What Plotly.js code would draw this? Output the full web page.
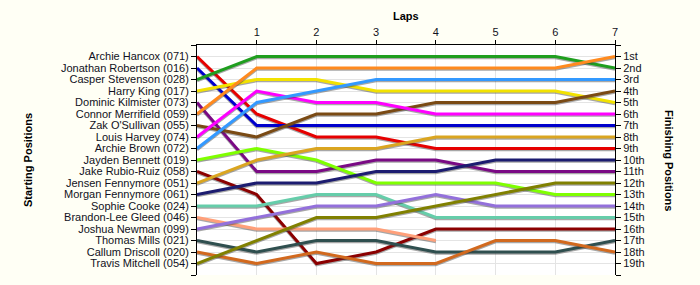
<!DOCTYPE html>
<html>
<head>
<meta charset="utf-8">
<script src="https://cdn.plot.ly/plotly-3.0.1.min.js"></script>
<style>
  html, body { margin: 0; padding: 0; background: #FFFFF5; }
  #chart { width: 700px; height: 285px; }
</style>
</head>
<body>
<div id="chart"></div>
<script>
// Laps
const laps = [0, 1, 2, 3, 4, 5, 6, 7];

// Drivers in starting order
const drivers = [
  "Archie Hancox (071)", "Jonathan Robertson (016)", "Casper Stevenson (028)",
  "Harry King (017)", "Dominic Kilmister (073)", "Connor Merrifield (059)",
  "Zak O'Sullivan (055)", "Louis Harvey (074)", "Archie Brown (072)",
  "Jayden Bennett (019)", "Jake Rubio-Ruiz (058)", "Jensen Fennymore (051)",
  "Morgan Fennymore (061)", "Sophie Cooke (024)", "Brandon-Lee Gleed (046)",
  "Joshua Newman (099)", "Thomas Mills (021)", "Callum Driscoll (020)",
  "Travis Mitchell (054)"
];

const colors = [
  "#E60000", "#0000CC", "#1F9E1F", "#F2E200", "#7A0A84", "#FF8A1F",
  "#7A4A14", "#FF00FF", "#3399FF", "#7FFF00", "#8B0000", "#DAA520",
  "#1C1C70", "#66CDAA", "#FFA07A", "#9370DB", "#2F4F4F", "#D2691E",
  "#808000"
];

// Position of each driver at the end of each lap (lap 0 = start)
const posHancox     = [1, 6, 8, 8, 9, 9, 9, 9];
const posRobertson  = [2, 7, 7, 7, 7, 7, 7, 7];
const posStevenson  = [3, 1, 1, 1, 1, 1, 1, 2];
const posKing       = [4, 3, 3, 4, 4, 4, 4, 5];
const posKilmister  = [5, 11, 11, 10, 10, 11, 11, 11];
const posMerrifield = [6, 2, 2, 2, 2, 2, 2, 1];
const posOSullivan  = [7, 8, 6, 6, 5, 5, 5, 4];
const posHarvey     = [8, 4, 5, 5, 6, 6, 6, 6];
const posBrown      = [9, 5, 4, 3, 3, 3, 3, 3];
const posBennett    = [10, 9, 10, 12, 12, 12, 13, 13];
const posRubioRuiz  = [11, 13, 19, 18, 16, 16, 16, 16];
const posJensenF    = [12, 10, 9, 9, 8, 8, 8, 8];
const posMorganF    = [13, 12, 12, 11, 11, 10, 10, 10];
const posCooke      = [14, 14, 13, 13, 15, 15, 15, 15];
const posGleed      = [15, 16, 16, 16, 17];
const posNewman     = [16, 15, 14, 14, 13, 14, 14, 14];
const posMills      = [17, 18, 17, 17, 18, 18, 18, 17];
const posDriscoll   = [18, 19, 18, 19, 19, 17, 17, 18];
const posMitchell   = [19, 17, 15, 15, 14, 13, 12, 12];

const positions = [
  posHancox, posRobertson, posStevenson, posKing, posKilmister, posMerrifield,
  posOSullivan, posHarvey, posBrown, posBennett, posRubioRuiz, posJensenF,
  posMorganF, posCooke, posGleed, posNewman, posMills, posDriscoll, posMitchell
];

const finishLabels = ["1st","2nd","3rd","4th","5th","6th","7th","8th","9th","10th",
  "11th","12th","13th","14th","15th","16th","17th","18th","19th"];

const tickVals = [];
for (let i = 0; i <= 20; i++) tickVals.push(i);
const leftText = [""].concat(drivers).concat([""]);
const rightText = [""].concat(finishLabels).concat([""]);

const traces = [];
positions.forEach((p, i) => {
  const x = laps.slice(0, p.length);
  traces.push({
    x: x, y: p.map(v => v + 0.11), type: "scatter", mode: "lines",
    line: { color: "rgba(60,60,60,0.45)", width: 3 },
    hoverinfo: "skip", showlegend: false
  });
  traces.push({
    x: x, y: p, type: "scatter", mode: "lines", name: drivers[i],
    line: { color: colors[i], width: 3 },
    showlegend: false
  });
});
// dummy trace to activate right axis
traces.push({ x: [0], y: [1], yaxis: "y2", mode: "markers",
  marker: { opacity: 0 }, showlegend: false, hoverinfo: "skip" });

const tickFont = { family: "Liberation Sans, Arial, sans-serif", size: 11, color: "#111122" };
const titleFont = { family: "Liberation Sans, Arial, sans-serif", size: 11, color: "#000000", weight: "bold" };

const layout = {
  width: 700, height: 285,
  paper_bgcolor: "#FFFFF5",
  plot_bgcolor: "#FFFFFF",
  margin: { l: 197, r: 85, t: 45, b: 10, pad: 0 },
  showlegend: false,
  xaxis: {
    side: "top", range: [0, 7], tickvals: [1, 2, 3, 4, 5, 6, 7],
    ticks: "outside", ticklen: 4, tickcolor: "#000", tickwidth: 1,
    showline: true, linecolor: "#000", linewidth: 1,
    showgrid: true, gridcolor: "#E4E4E4", zeroline: false,
    tickfont: tickFont, fixedrange: true
  },
  yaxis: {
    range: [20, 0], tickvals: tickVals, ticktext: leftText,
    ticks: "outside", ticklen: 5, tickcolor: "#000",
    showline: true, linecolor: "#000", linewidth: 1,
    showgrid: true, gridcolor: "#E4E4E4", zeroline: false,
    tickfont: tickFont
  },
  yaxis2: {
    overlaying: "y", side: "right",
    range: [20, 0], tickvals: tickVals, ticktext: rightText,
    ticks: "outside", ticklen: 5, tickcolor: "#000",
    showline: true, linecolor: "#000", linewidth: 1,
    showgrid: false, zeroline: false,
    tickfont: tickFont
  },
  annotations: [
    { text: "Laps", xref: "paper", yref: "paper", x: 0.5, y: 1 + 29 / 230,
      xanchor: "center", yanchor: "middle", showarrow: false, font: titleFont },
    { text: "Starting Positions", xref: "paper", yref: "paper",
      x: (28 - 197) / 418, y: 0.5, textangle: -90,
      xanchor: "center", yanchor: "middle", showarrow: false, font: titleFont },
    { text: "Finishing Positions", xref: "paper", yref: "paper",
      x: (669 - 197) / 418, y: 0.5, textangle: 90,
      xanchor: "center", yanchor: "middle", showarrow: false, font: titleFont }
  ]
};

Plotly.newPlot("chart", traces, layout, { displayModeBar: false, staticPlot: true });
</script>
</body>
</html>
